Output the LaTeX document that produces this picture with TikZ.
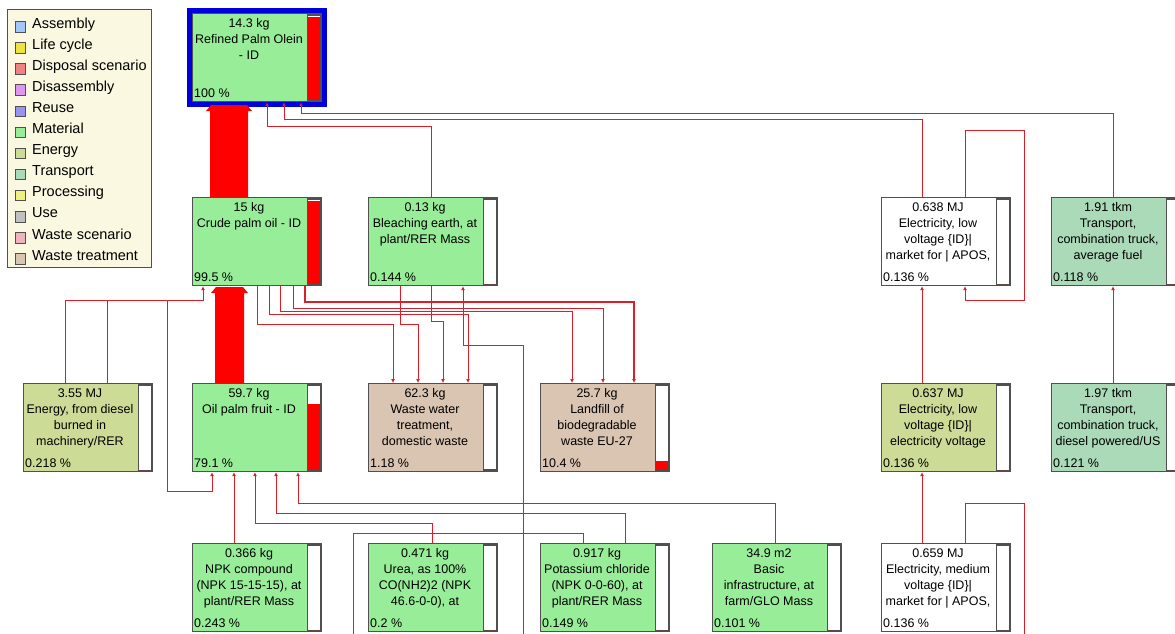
\documentclass[tikz,border=0pt]{standalone}
\usepackage{fontspec}
\setmainfont{Liberation Sans}
\usepackage{tikz}
\usetikzlibrary{arrows.meta, calc}
\definecolor{cMat}{RGB}{152,238,152}
\definecolor{cEnergy}{RGB}{204,220,150}
\definecolor{cTrans}{RGB}{170,218,184}
\definecolor{cWaste}{RGB}{218,196,178}
\definecolor{cAsm}{RGB}{160,200,250}
\definecolor{cLife}{RGB}{240,228,60}
\definecolor{cDisp}{RGB}{240,130,130}
\definecolor{cDisasm}{RGB}{224,150,240}
\definecolor{cReuse}{RGB}{150,150,240}
\definecolor{cProc}{RGB}{240,240,130}
\definecolor{cUse}{RGB}{192,192,192}
\definecolor{cWScen}{RGB}{240,180,190}
\definecolor{cLegend}{RGB}{250,248,224}
\definecolor{boxgray}{RGB}{80,80,80}
\definecolor{linkred}{RGB}{220,30,40}
\definecolor{flowred}{RGB}{255,0,0}
\definecolor{frameblue}{RGB}{0,0,220}
\tikzset{
  unitbox/.style={draw=boxgray, line width=1.2pt, minimum width=129pt, minimum height=88pt, anchor=north west, inner sep=0},
  unittext/.style={anchor=north, align=center, inner sep=0, font=\fontsize{12.5}{16}\selectfont},
  unitpct/.style={anchor=base west, inner sep=0, font=\fontsize{12.5}{16}\selectfont},
  barframe/.style={draw=boxgray, line width=1.2pt, fill=white},
  keybox/.style={draw=boxgray, line width=0.8pt},
  keytext/.style={anchor=base west, inner sep=0, font=\fontsize{14.5}{16}\selectfont},
  link/.style={draw=linkred, line width=0.9pt},
  arr/.style={-{Latex[length=4pt,width=4pt]}}
}
\newcommand{\procunit}[7]{%
\node[unitbox, fill=#4] (#1) at (#2,#3) {};
\node[unittext] (#1-txt) at ($(#1.north west)+(57,5.5)$) {#5};
\node[unitpct] (#1-pct) at ($(#1.south west)+(2,-5)$) {#6};
\draw[barframe] ($(#1.north east)+(-15,2)$) rectangle ($(#1.south east)+(-2,-2)$);
\fill[flowred] ($(#1.south east)+(-14.4,-2.6)$) rectangle ($(#1.south east)+(-2.6,{-2.6-82.8*#7})$);
}

\begin{document}
\begin{tikzpicture}[x=1pt, y=-1pt]
\useasboundingbox (0,0) rectangle (1175,633);
\clip (0,0) rectangle (1175,633);
\fill[white] (0,0) rectangle (1175,633);

\draw[draw=boxgray, line width=1pt, fill=cLegend] (7,9) rectangle (151,267);
\foreach \lab/\col [count=\i from 0] in {Assembly/cAsm, Life cycle/cLife, Disposal scenario/cDisp, Disassembly/cDisasm, Reuse/cReuse, Material/cMat, Energy/cEnergy, Transport/cTrans, Processing/cProc, Use/cUse, Waste scenario/cWScen, Waste treatment/cWaste} {
\pgfmathsetmacro\b{28+21.1*\i}
\draw[keybox, fill=\col] (15,\b-6.5) rectangle (25.5,\b+4);
\node[keytext] (key\i) at (32,\b) {\lab};
}

\procunit{olein}{192}{13}{cMat}{14.3 kg\\Refined Palm Olein\\- ID}{100 \%}{1}
\draw[frameblue, line width=5pt] ($(olein.north west)+(-2.5,-2.5)$) rectangle ($(olein.south east)+(2.5,2.5)$);
\procunit{crude}{192}{197}{cMat}{15 kg\\Crude palm oil - ID}{99.5 \%}{0.995}
\procunit{bleach}{368}{197}{cMat}{0.13 kg\\Bleaching earth, at\\plant/RER Mass}{0.144 \%}{0}
\procunit{elec1}{881}{197}{white}{0.638 MJ\\Electricity, low\\voltage \{ID\}|\\market for | APOS,}{0.136 \%}{0}
\procunit{truck1}{1051}{197}{cTrans}{1.91 tkm\\Transport,\\combination truck,\\average fuel}{0.118 \%}{0}
\procunit{energy}{23}{383}{cEnergy}{3.55 MJ\\Energy, from diesel\\burned in\\machinery/RER}{0.218 \%}{0}
\procunit{fruit}{192}{383}{cMat}{59.7 kg\\Oil palm fruit - ID}{79.1 \%}{0.791}
\procunit{wastew}{368}{383}{cWaste}{62.3 kg\\Waste water\\treatment,\\domestic waste}{1.18 \%}{0.0118}
\procunit{landfill}{540}{383}{cWaste}{25.7 kg\\Landfill of\\biodegradable\\waste EU-27}{10.4 \%}{0.104}
\procunit{elec2}{881}{383}{cEnergy}{0.637 MJ\\Electricity, low\\voltage \{ID\}|\\electricity voltage}{0.136 \%}{0}
\procunit{truck2}{1051}{383}{cTrans}{1.97 tkm\\Transport,\\combination truck,\\diesel powered/US}{0.121 \%}{0}
\procunit{npk}{192}{543}{cMat}{0.366 kg\\NPK compound\\(NPK 15-15-15), at\\plant/RER Mass}{0.243 \%}{0}
\procunit{urea}{368}{543}{cMat}{0.471 kg\\Urea, as 100\%\\CO(NH2)2 (NPK\\46.6-0-0), at}{0.2 \%}{0}
\procunit{potash}{540}{543}{cMat}{0.917 kg\\Potassium chloride\\(NPK 0-0-60), at\\plant/RER Mass}{0.149 \%}{0}
\procunit{infra}{712}{543}{cMat}{34.9 m2\\Basic\\infrastructure, at\\farm/GLO Mass}{0.101 \%}{0}
\procunit{elec3}{881}{543}{white}{0.659 MJ\\Electricity, medium\\voltage \{ID\}|\\market for | APOS,}{0.136 \%}{0}

\coordinate (offB) at (523,640);
\coordinate (offC) at (353,640);
\coordinate (offE) at (1024,640);

\fill[flowred] (crude.north -| 210,0) -- (210,111) -- (206,111) -- (211,105) -- (247,105) -- (252,111) -- (248,111) -- (crude.north -| 248,0) -- cycle;
\fill[flowred] (fruit.north -| 215,0) -- (215,293) -- (211,293) -- (216,287) -- (243,287) -- (248,293) -- (244,293) -- (fruit.north -| 244,0) -- cycle;

\draw[link, arr] (bleach.north -| 431,0) -- ++(0,-71) -| (olein.south -| 267,0);
\draw[link, arr] (elec1.north -| 922,0) -- ++(0,-78) -| (olein.south -| 284,0);
\draw[link, arr] (truck1.north -| 1113,0) -- ++(0,-84) -| (olein.south -| 301,0);
\draw[link, arr] (elec1.north -| 965,0) |- (1024,130) |- (965,300) -- (elec1.south -| 965,0);
\draw[link, arr] (elec2.north -| 922,0) -- (elec1.south -| 922,0);
\draw[link, arr] (elec3.north -| 922,0) -- (elec2.south -| 922,0);
\draw[link] (elec3.north -| 965,0) |- (1024,503) -- (offE);
\draw[link, arr] (truck2.north -| 1113,0) -- (truck1.south -| 1113,0);

\draw[link, arr] (energy.north -| 65,0) |- (203,300) -- (crude.south -| 203,0);
\draw[link, arr] (energy.north -| 107,0) |- (167,300) |- (212,491) -- (fruit.south -| 212,0);

\draw[link, arr] (crude.south -| 257,0) -- ++(0,38) -| (wastew.north -| 393,0);
\draw[link, arr] (crude.south -| 269,0) -- ++(0,28) -| (wastew.north -| 468,0);
\draw[link, arr] (crude.south -| 280,0) -- ++(0,25) -| (landfill.north -| 572,0);
\draw[link, arr] (crude.south -| 293,0) -- ++(0,22) -| (landfill.north -| 603,0);
\draw[link, arr, line width=2pt] (crude.south -| 305,0) -- ++(0,16) -| (landfill.north -| 634,0);
\draw[link, arr] (bleach.south -| 400,0) -- ++(0,38) -| (wastew.north -| 418,0);
\draw[link, arr] (bleach.south -| 431,0) -- ++(0,35) -| (wastew.north -| 443,0);
\draw[link, arr] (offB) -- (523,345) -| (bleach.south -| 463,0);

\draw[link, arr] (npk.north -| 234,0) -- (fruit.south -| 234,0);
\draw[link, arr] (urea.north -| 432,0) -- ++(0,-20) -| (fruit.south -| 255,0);
\draw[link, arr] (potash.north -| 625,0) -- ++(0,-30) -| (fruit.south -| 276,0);
\draw[link, arr] (infra.north -| 775,0) -- ++(0,-40) -| (fruit.south -| 298,0);
\draw[link] (potash.north -| 583,0) -- ++(0,-10) -| (offC);
\end{tikzpicture}
\end{document}
